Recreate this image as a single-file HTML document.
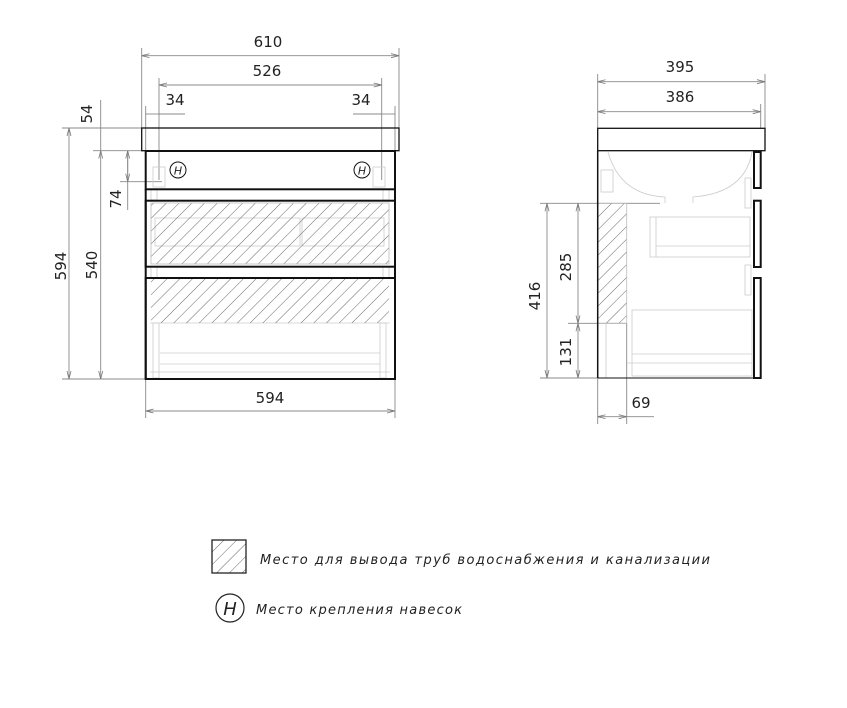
<!DOCTYPE html>
<html><head><meta charset="utf-8"><style>
html,body{margin:0;padding:0;background:#fff}
svg{display:block}
text{font-family:"DejaVu Sans","Liberation Sans",sans-serif;fill:#222}
</style></head><body>
<svg width="847" height="708" viewBox="0 0 847 708" xmlns="http://www.w3.org/2000/svg">
<defs>
<pattern id="h" patternUnits="userSpaceOnUse" width="9" height="9" patternTransform="rotate(45)">
<line x1="0" y1="0" x2="0" y2="9" stroke="#444" stroke-width="0.8"/>
</pattern>
<marker id="a" markerWidth="8" markerHeight="6" refX="8" refY="3" orient="auto-start-reverse" markerUnits="userSpaceOnUse">
<path d="M0,1 L8,3 L0,5" fill="none" stroke="#777" stroke-width="0.8"/>
</marker>
</defs>
<g stroke="#888" stroke-width="0.9" fill="none">
<line x1="141.7" y1="48" x2="141.7" y2="128"/>
<line x1="399" y1="48" x2="399" y2="128"/>
<line x1="159" y1="78" x2="159" y2="180"/>
<line x1="381.7" y1="78" x2="381.7" y2="180"/>
<line x1="145.7" y1="106" x2="145.7" y2="150"/>
<line x1="395" y1="106" x2="395" y2="150"/>
<line x1="145.7" y1="379" x2="145.7" y2="418"/>
<line x1="395" y1="379" x2="395" y2="418"/>
<line x1="62" y1="128" x2="141" y2="128"/>
<line x1="93" y1="150.7" x2="145" y2="150.7"/>
<line x1="62" y1="379" x2="145" y2="379"/>
<line x1="120" y1="181.7" x2="162" y2="181.7"/>
<line x1="100.7" y1="100" x2="100.7" y2="128"/>
<line x1="127.7" y1="150.7" x2="127.7" y2="210"/>
<line x1="159" y1="114" x2="185" y2="114"/>
<line x1="353" y1="114" x2="381.7" y2="114"/>
<line x1="141.7" y1="55.7" x2="399" y2="55.7" marker-start="url(#a)" marker-end="url(#a)"/>
<line x1="159" y1="85" x2="381.7" y2="85" marker-start="url(#a)" marker-end="url(#a)"/>
<line x1="145.7" y1="114" x2="159" y2="114"/>
<line x1="381.7" y1="114" x2="395" y2="114"/>
<line x1="69" y1="128" x2="69" y2="379" marker-start="url(#a)" marker-end="url(#a)"/>
<line x1="100.7" y1="150.7" x2="100.7" y2="379" marker-start="url(#a)" marker-end="url(#a)"/>
<line x1="100.7" y1="128" x2="100.7" y2="150.7"/>
<line x1="127.7" y1="150.7" x2="127.7" y2="181.7" marker-start="url(#a)" marker-end="url(#a)"/>
<line x1="145.7" y1="411" x2="395" y2="411" marker-start="url(#a)" marker-end="url(#a)"/>
<line x1="597.7" y1="74" x2="597.7" y2="128"/>
<line x1="765" y1="74" x2="765" y2="128"/>
<line x1="760.7" y1="104" x2="760.7" y2="128"/>
<line x1="597.7" y1="81.7" x2="765" y2="81.7" marker-start="url(#a)" marker-end="url(#a)"/>
<line x1="597.7" y1="111.7" x2="760.7" y2="111.7" marker-start="url(#a)" marker-end="url(#a)"/>
<line x1="540" y1="203.3" x2="660" y2="203.3"/>
<line x1="568" y1="323.3" x2="626" y2="323.3"/>
<line x1="540" y1="378" x2="597" y2="378"/>
<line x1="547" y1="203.3" x2="547" y2="378" marker-start="url(#a)" marker-end="url(#a)"/>
<line x1="578" y1="203.3" x2="578" y2="323.3" marker-start="url(#a)" marker-end="url(#a)"/>
<line x1="578" y1="323.3" x2="578" y2="378" marker-start="url(#a)" marker-end="url(#a)"/>
<line x1="597.7" y1="378" x2="597.7" y2="424"/>
<line x1="626.7" y1="323" x2="626.7" y2="424"/>
<line x1="597.7" y1="416.7" x2="626.7" y2="416.7" marker-start="url(#a)" marker-end="url(#a)"/>
<line x1="626.7" y1="416.7" x2="654" y2="416.7"/>
</g>
<g stroke="#ccc" stroke-width="0.8" fill="none">
<rect x="151" y="189" width="6" height="11"/><rect x="383" y="189" width="6" height="11"/>
<rect x="151" y="267" width="6" height="11"/><rect x="383" y="267" width="6" height="11"/>
<rect x="153" y="167" width="12" height="20"/><rect x="373" y="167" width="12" height="20"/>
<rect x="155" y="218" width="145" height="28"/><rect x="302" y="218" width="82" height="28"/>
<rect x="153" y="323" width="6" height="55"/><rect x="380" y="323" width="6" height="55"/>
<line x1="160" y1="353" x2="380" y2="353"/><line x1="160" y1="364" x2="380" y2="364"/><line x1="150" y1="372" x2="390" y2="372"/>
<line x1="150" y1="323" x2="390" y2="323"/>
</g>
<rect x="151" y="203" width="238" height="61" fill="url(#h)" stroke="#bbb" stroke-width="0.8"/>
<rect x="151" y="278" width="238" height="45" fill="url(#h)" stroke="none"/>
<g stroke="#111" fill="none">
<rect x="141.7" y="128" width="257.3" height="22.7" stroke-width="1.3"/>
<rect x="145.7" y="151" width="249.3" height="38.3" stroke-width="2"/>
<rect x="145.7" y="200.7" width="249.3" height="66" stroke-width="2"/>
<rect x="145.7" y="278" width="249.3" height="101" stroke-width="2"/>
<line x1="145.7" y1="189" x2="145.7" y2="379" stroke-width="2"/>
<line x1="395" y1="189" x2="395" y2="379" stroke-width="2"/>
<circle cx="178" cy="170" r="8" stroke-width="1"/>
<circle cx="362" cy="170" r="8" stroke-width="1"/>
</g>
<text x="178" y="174.5" font-size="11" font-style="italic" text-anchor="middle">H</text>
<text x="362" y="174.5" font-size="11" font-style="italic" text-anchor="middle">H</text>
<g stroke="#ccc" stroke-width="0.8" fill="none">
<path d="M608,152 Q620,195 665,197 L665,203 M693,203 L693,197 Q745,193 752,152"/>
<rect x="601" y="170" width="12" height="22"/>
<rect x="745" y="178" width="6" height="30"/>
<rect x="650" y="217" width="100" height="40"/><line x1="656" y1="217" x2="656" y2="257"/><line x1="656" y1="246" x2="750" y2="246"/>
<rect x="745" y="265" width="6" height="30"/>
<rect x="632" y="310" width="120" height="66"/><line x1="632" y1="354" x2="752" y2="354"/><line x1="627" y1="363" x2="752" y2="363"/>
<line x1="606" y1="323" x2="606" y2="378"/>
</g>
<rect x="597.7" y="203.3" width="29" height="120" fill="url(#h)" stroke="#bbb" stroke-width="0.8"/>
<g stroke="#111" fill="none">
<rect x="597.7" y="128.3" width="167.3" height="22.4" stroke-width="1.3"/>
<line x1="597.7" y1="150.7" x2="597.7" y2="378" stroke-width="1.5"/>
<line x1="597.7" y1="378" x2="754" y2="378" stroke-width="1"/>
<rect x="754" y="152" width="6.7" height="36" stroke-width="2"/>
<rect x="754" y="200.7" width="6.7" height="66.3" stroke-width="2"/>
<rect x="754" y="278" width="6.7" height="100" stroke-width="2"/>
</g>
<g font-size="15" text-anchor="middle">
<text x="268" y="47">610</text>
<text x="267" y="76">526</text>
<text x="175" y="105">34</text>
<text x="361" y="105">34</text>
<text x="270" y="403">594</text>
<text x="680" y="72">395</text>
<text x="680" y="102">386</text>
<text x="641" y="408">69</text>
<text transform="translate(92,114) rotate(-90)">54</text>
<text transform="translate(121,199) rotate(-90)">74</text>
<text transform="translate(66,266) rotate(-90)">594</text>
<text transform="translate(97,265) rotate(-90)">540</text>
<text transform="translate(540,296) rotate(-90)">416</text>
<text transform="translate(571,267) rotate(-90)">285</text>
<text transform="translate(571,352) rotate(-90)">131</text>
</g>
<rect x="212" y="540" width="34" height="33" fill="url(#h)" stroke="#222" stroke-width="1.3"/>
<text x="260" y="564" font-size="13" font-style="italic" textLength="450" lengthAdjust="spacing">Место для вывода труб водоснабжения и канализации</text>
<circle cx="230" cy="608" r="14" fill="none" stroke="#222" stroke-width="1.2"/>
<text x="230" y="615" font-size="18" font-style="italic" text-anchor="middle">H</text>
<text x="256" y="614" font-size="13" font-style="italic" textLength="206" lengthAdjust="spacing">Место крепления навесок</text>
</svg>
</body></html>
